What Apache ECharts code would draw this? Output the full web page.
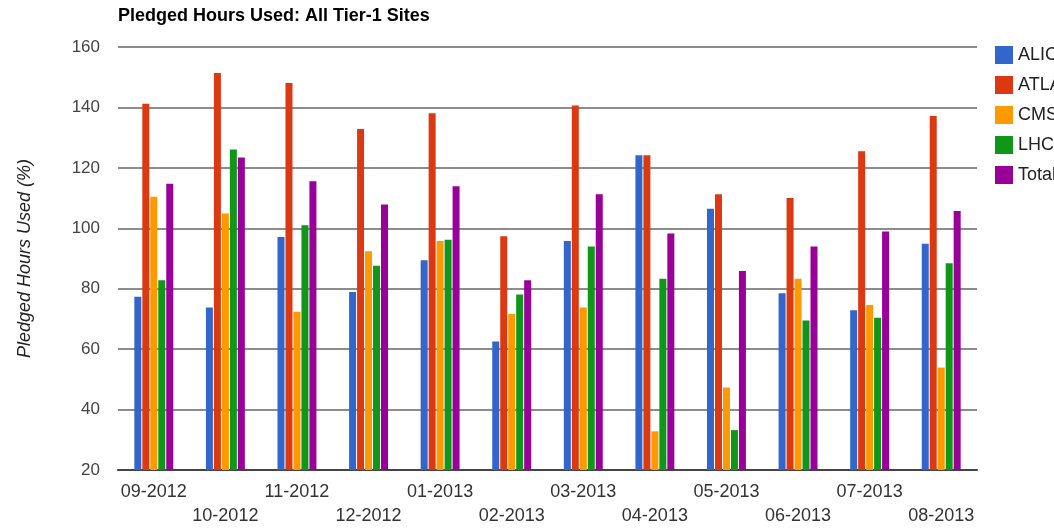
<!DOCTYPE html>
<html>
<head>
<meta charset="utf-8">
<script src="https://cdn.jsdelivr.net/npm/echarts@6/dist/echarts.min.js"></script>
<style>html,body{margin:0;padding:0;background:#fff;}#c{width:1054px;height:528px;}</style>
</head>
<body>
<div id="c"></div>
<script>
const categories = ['09-2012','10-2012','11-2012','12-2012','01-2013','02-2013','03-2013','04-2013','05-2013','06-2013','07-2013','08-2013'];
const alice = [77.3, 73.8, 97.1, 78.9, 89.4, 62.5, 95.8, 124.2, 106.5, 78.5, 72.9, 94.9];
const atlas = [141.2, 151.4, 148.1, 132.9, 138.1, 97.4, 140.6, 124.2, 111.3, 110.0, 125.5, 137.2];
const cms = [110.4, 104.9, 72.4, 92.4, 95.8, 71.6, 73.8, 32.8, 47.3, 83.3, 74.6, 53.9];
const lhcb = [82.8, 126.1, 101.0, 87.6, 96.2, 78.1, 94.0, 83.3, 33.2, 69.5, 70.4, 88.4];
const total = [114.7, 123.4, 115.6, 107.9, 113.9, 82.8, 111.3, 98.3, 85.9, 94.0, 98.9, 105.7];
const seriesNames = ['ALICE','ATLAS','CMS','LHCb','Total'];
const seriesColors = ['#3366cc','#dc3912','#ff9900','#109618','#990099'];
const yTicks = [20, 40, 60, 80, 100, 120, 140, 160];

const chart = echarts.init(document.getElementById('c'));
const dataSets = [alice, atlas, cms, lhcb, total];
chart.setOption({
  animation: false,
  textStyle: { fontFamily: 'Liberation Sans, Arial, sans-serif' },
  title: {
    text: 'Pledged Hours Used: All Tier-1 Sites',
    left: 113, top: 2,
    textStyle: { fontSize: 18, fontWeight: 'bold', color: '#000' }
  },
  legend: {
    orient: 'vertical', left: 990, top: 41,
    itemWidth: 18, itemHeight: 18, itemGap: 12,
    icon: 'rect',
    textStyle: { fontSize: 18, color: '#222' },
    data: seriesNames
  },
  grid: { left: 118, right: 77, top: 47, bottom: 57, containLabel: false },
  xAxis: {
    type: 'category',
    data: categories,
    axisLine: { lineStyle: { color: '#444', width: 2 } },
    axisTick: { show: false },
    axisLabel: {
      interval: 0, fontSize: 18, color: '#333', margin: 10, lineHeight: 24,
      formatter: (v, i) => (i % 2 === 1 ? '\n' + v : v)
    }
  },
  yAxis: {
    type: 'value', min: 20, max: 160, interval: 20,
    name: 'Pledged Hours Used (%)',
    nameLocation: 'middle', nameGap: 84, nameRotate: 90,
    nameTextStyle: { fontSize: 18, fontStyle: 'italic', color: '#222' },
    axisLine: { show: false },
    axisTick: { show: false },
    axisLabel: { fontSize: 17, color: '#444', margin: 18,
      formatter: v => (yTicks.indexOf(v) >= 0 ? String(v) : '') },
    splitLine: { lineStyle: { color: '#666', width: 1.5 } }
  },
  series: seriesNames.map((n, k) => ({
    name: n, type: 'bar', data: dataSets[k],
    barWidth: 7, barGap: '14%', barCategoryGap: '40%',
    itemStyle: { color: seriesColors[k] }
  }))
});
</script>
</body>
</html>
